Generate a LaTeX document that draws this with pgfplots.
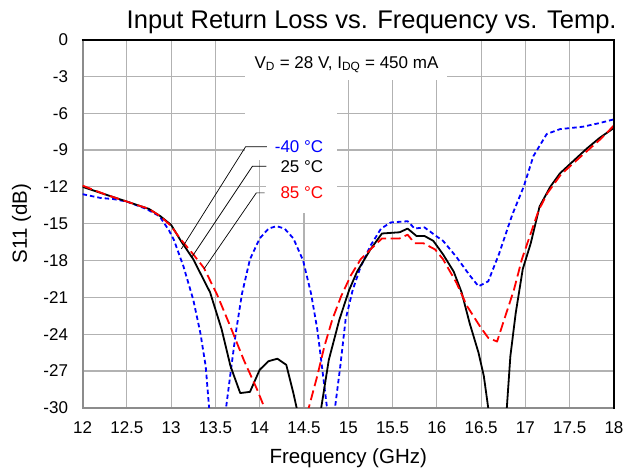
\documentclass[border=0pt]{standalone}
\usepackage{fontspec}
\setmainfont{Liberation Sans}
\usepackage{pgfplots}
\pgfplotsset{compat=1.18}
\begin{document}
\begin{tikzpicture}
\begin{axis}[
  scale only axis, width=531pt, height=368pt,
  xmin=12, xmax=18, ymin=-30, ymax=0,
  xtick={12,12.5,13,13.5,14,14.5,15,15.5,16,16.5,17,17.5,18},
  ytick={-30,-27,-24,-21,-18,-15,-12,-9,-6,-3,0},
  grid=major,
  major grid style={color=black!30, line width=1.2pt},
  axis line style={color=black!45, line width=2pt},
  major tick length=0pt,
  tick label style={font=\fontsize{17}{20}\selectfont},
  /pgf/number format/assume math mode=true,
  xticklabel style={yshift=-10pt},
  yticklabel style={xshift=-11pt},
  xlabel={Frequency (GHz)}, ylabel={S11 (dB)},
  label style={font=\fontsize{20.5}{24}\selectfont},
  x label style={at={([yshift=-50pt]axis description cs:0.5,0)}, anchor=center},
  y label style={at={([xshift=-61pt]axis description cs:0,0.5)}, anchor=center},
  clip mode=individual,
]
% white boxes behind annotations
\fill[white] (axis cs:13.83,0) rectangle (axis cs:16.12,-3.26);
\fill[white] (axis cs:13.83,-3.2) rectangle (axis cs:14.87,-9.8);
\fill[white] (axis cs:14.07,-9.7) rectangle (axis cs:14.87,-14.1);

\addplot[color=blue, line width=1.8pt, dash pattern=on 4.5pt off 3pt, line join=round] coordinates {
(12,-12.6) (12.2,-12.9) (12.35,-13.0) (12.5,-13.2) (12.72,-13.8) (12.87,-14.4) (12.98,-15.6)
(13.03,-16.3) (13.14,-18.5) (13.25,-21.2) (13.33,-23.9) (13.39,-26.6) (13.43,-30.1) (13.50,-36.5)
(13.62,-30.0) (13.67,-27.2) (13.73,-23.9) (13.80,-20.7) (13.89,-17.9) (14.0,-16.2) (14.1,-15.4)
(14.19,-15.2) (14.28,-15.4) (14.38,-16.2) (14.49,-18.0) (14.58,-20.7) (14.65,-23.6) (14.68,-25.3)
(14.76,-30) (14.805,-32.7) (14.85,-30) (14.91,-26.6) (14.97,-22.8) (15.05,-20.4) (15.14,-18.5)
(15.25,-16.8) (15.37,-15.4) (15.48,-14.9) (15.67,-14.8) (15.75,-15.4) (15.86,-15.3) (15.99,-16.0)
(16.07,-16.4) (16.22,-17.7) (16.37,-19.2) (16.47,-20.1) (16.58,-19.7) (16.70,-17.5) (16.85,-14.3)
(16.98,-12.0) (17.09,-9.5) (17.24,-7.7) (17.39,-7.3) (17.65,-7.1) (17.84,-6.8) (18,-6.5)
};
\addplot[color=black, line width=1.8pt, line join=round] coordinates {
(12,-12.0) (12.25,-12.6) (12.5,-13.2) (12.75,-13.8) (12.88,-14.4) (13.0,-15.1) (13.11,-16.4)
(13.25,-17.9) (13.44,-20.6) (13.57,-23.6) (13.67,-26.6) (13.78,-28.8) (13.89,-28.7) (14.0,-26.9)
(14.10,-26.2) (14.2,-26.0) (14.3,-26.5) (14.38,-28.8) (14.42,-30.1) (14.58,-35) (14.69,-30.2)
(14.78,-26.1) (14.90,-22.8) (15.01,-20.4) (15.10,-18.9) (15.25,-17.1) (15.38,-15.8) (15.58,-15.7)
(15.67,-15.4) (15.77,-16.0) (15.86,-16.0) (15.96,-16.4) (16.07,-17.5) (16.19,-18.9) (16.28,-20.6)
(16.37,-23.1) (16.47,-25.5) (16.53,-27.4) (16.58,-30.0) (16.72,-37) (16.79,-30.0) (16.83,-25.8)
(16.89,-22.3) (16.97,-18.7) (17.06,-16.6) (17.16,-13.6) (17.28,-12.0) (17.39,-10.9) (17.54,-9.9)
(17.69,-8.9) (17.84,-8.0) (18,-7.2)
};
\addplot[color=red, line width=1.8pt, dash pattern=on 10pt off 4.5pt, line join=round] coordinates {
(12,-11.9) (12.25,-12.6) (12.5,-13.2) (12.75,-13.8) (12.88,-14.4) (13.0,-15.2) (13.1,-16.2)
(13.25,-17.5) (13.37,-18.6) (13.52,-20.8) (13.67,-23.4) (13.82,-26.1) (13.97,-28.5) (14.06,-30.1)
(14.35,-35.3) (14.55,-30.1) (14.65,-27.4) (14.73,-25.0) (14.82,-22.8) (14.92,-20.9) (15.03,-19.2)
(15.14,-17.9) (15.25,-17.1) (15.38,-16.2) (15.58,-16.2) (15.67,-15.9) (15.75,-16.6) (15.85,-16.6)
(15.98,-17.1) (16.07,-17.9) (16.22,-19.8) (16.34,-21.7) (16.49,-23.4) (16.58,-24.3) (16.68,-24.6)
(16.77,-22.6) (16.87,-20.4) (16.96,-17.9) (17.05,-16.0) (17.15,-13.9) (17.25,-12.5) (17.40,-11.0)
(17.63,-9.5) (17.85,-8.1) (18,-7.0)
};

% callout lines
\draw[black, line width=0.7pt] (axis cs:14.08,-8.74) -- (axis cs:13.84,-8.74) -- (axis cs:13.115,-17.06);
\draw[black, line width=0.7pt] (axis cs:14.076,-10.33) -- (axis cs:13.917,-10.33) -- (axis cs:13.235,-17.71);
\draw[black, line width=0.7pt] (axis cs:14.056,-12.49) -- (axis cs:13.962,-12.49) -- (axis cs:13.371,-18.69);

\node[anchor=east, text=blue, font=\fontsize{17}{20}\selectfont, inner sep=0pt] at (axis cs:14.72,-8.72) {-40 °C};
\node[anchor=east, text=black, font=\fontsize{17}{20}\selectfont, inner sep=0pt] at (axis cs:14.72,-10.35) {25 °C};
\node[anchor=east, text=red, font=\fontsize{17}{20}\selectfont, inner sep=0pt] at (axis cs:14.72,-12.47) {85 °C};

\node[font=\fontsize{17}{20}\selectfont, inner sep=0pt] at (axis cs:14.98,-2.04) {V\textsubscript{D} = 28 V, I\textsubscript{DQ} = 450 mA};

\node[font=\fontsize{25.5}{30}\selectfont, anchor=base, inner sep=0pt] at ([yshift=11pt]axis description cs:0.544,1) {Input Return Loss vs. Frequency vs. Temp.};
\end{axis}
\draw[black, line width=2pt] ([xshift=-1pt]current axis.north west) -- (current axis.north east) -- ([yshift=-1pt]current axis.south east);
\pgfresetboundingbox
\path[use as bounding box] ([shift={(-82.5pt,-60pt)}]current axis.south west) rectangle ([shift={(10pt,39.5pt)}]current axis.north east);
\end{tikzpicture}
\end{document}
